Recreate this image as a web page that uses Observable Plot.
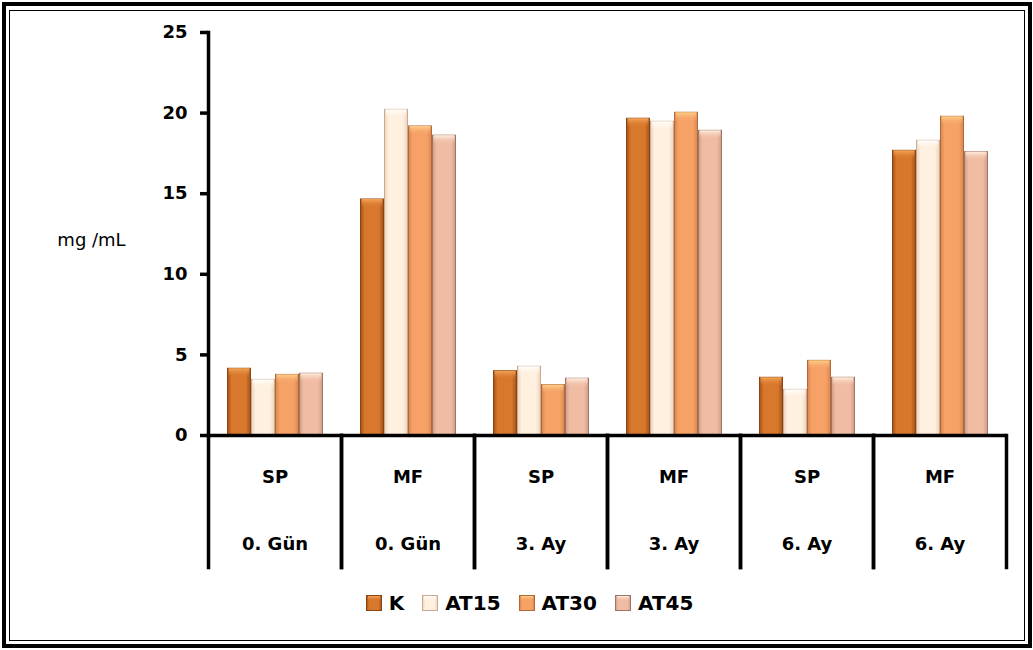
<!DOCTYPE html>
<html>
<head>
<meta charset="utf-8">
<script src="https://cdn.jsdelivr.net/npm/d3@7"></script>
<script src="https://cdn.jsdelivr.net/npm/@observablehq/plot@0.6"></script>
<style>
  html, body { margin: 0; padding: 0; background: #fff; }
  #wrap { position: relative; width: 1033px; height: 650px; overflow: hidden; background: #fff; font-family: "DejaVu Sans", sans-serif; }
  #outer { position: absolute; left: 2px; top: 2px; right: 1px; bottom: 2px; border: 4px solid #000; pointer-events: none; }
  #inner { position: absolute; left: 9px; top: 10px; right: 8px; bottom: 9px; border: 1.5px solid #000; pointer-events: none; }
  #chart { position: absolute; left: 0; top: 0; }
  #legend { position: absolute; left: 0; width: 1033px; top: 591px; display: flex; justify-content: center; align-items: center; font-weight: bold; font-size: 20px; color: #000; padding-left: 26px; box-sizing: border-box; }
  .item { display: flex; align-items: center; margin: 0 9px; }
  .sw { width: 16px; height: 16px; margin-right: 7px; }
</style>
</head>
<body>
<div id="wrap">
  <div id="chart"></div>
  <div id="legend"></div>
  <div id="outer"></div>
  <div id="inner"></div>
</div>
<script>
// ---- data ----
const processes = ["SP", "MF", "SP", "MF", "SP", "MF"];
const times = ["0. Gün", "0. Gün", "3. Ay", "3. Ay", "6. Ay", "6. Ay"];
const series = ["K", "AT15", "AT30", "AT45"];
const K    = [4.14, 14.64, 3.99, 19.65, 3.58, 17.66];
const AT15 = [3.45, 20.2, 4.26, 19.46, 2.83, 18.28];
const AT30 = [3.76, 19.17, 3.12, 20.02, 4.63, 19.77];
const AT45 = [3.83, 18.6, 3.52, 18.9, 3.58, 17.58];
const yTicks = [0, 5, 10, 15, 20, 25];
const yLabel = "mg /mL";

// ---- styles ----
const palette = {
  K:    {edge: "#a4511a", mid: "#d7782c", stroke: "#8a4313", top: "#f6a55a"},
  AT15: {edge: "#ecd2ba", mid: "#fff0e0", stroke: "#c9ab92", top: "#ffffff"},
  AT30: {edge: "#d88550", mid: "#f6a266", stroke: "#b06a3a", top: "#ffd08a"},
  AT45: {edge: "#cf9d86", mid: "#f0bca3", stroke: "#9f7565", top: "#fff0e0"}
};

const keys = processes.map((p, i) => p + "|" + times[i]);
const valuesBySeries = {K, AT15, AT30, AT45};
const table = [];
keys.forEach((k, i) => series.forEach(s => table.push({key: k, series: s, value: valuesBySeries[s][i]})));
const cats = keys.map((k, i) => ({key: k, proc: processes[i], time: times[i]}));

const font = "'DejaVu Sans', sans-serif";

const plot = Plot.plot({
  width: 1033,
  height: 580,
  marginTop: 32,
  marginBottom: 145,
  marginLeft: 205,
  marginRight: 25,
  style: {fontFamily: font, background: "transparent", overflow: "visible"},
  fx: {domain: keys, padding: 0, axis: null, label: null},
  x: {domain: series, paddingInner: 0, paddingOuter: 0.7, axis: null},
  y: {domain: [0, 25], axis: null},
  color: {domain: series, range: series.map(s => `url(#grad-${s})`)},
  marks: [
    Plot.barY(table, {fx: "key", x: "series", y: "value", fill: "series", stroke: d => palette[d.series].stroke, strokeWidth: 1, insetLeft: 0.5, insetRight: 0.5}),
    Plot.barY(table, {fx: "key", x: "series", y1: "value", y2: "value", insetBottom: -9, insetLeft: 1.5, insetRight: 1.5, fill: d => `url(#top-${d.series})`}),
    Plot.ruleY([0], {strokeWidth: 3.5, stroke: "#000"}),
    Plot.frame({anchor: "left", facet: "super", strokeWidth: 3.5, stroke: "#000"}),
    Plot.frame({anchor: "left", insetTop: 403, insetBottom: -132, strokeWidth: 3.5, stroke: "#000"}),
    Plot.frame({anchor: "right", insetTop: 403, insetBottom: -132, strokeWidth: 3.5, stroke: "#000"}),
    Plot.axisY({ticks: yTicks, tickSize: 8, tickPadding: 13, strokeWidth: 3.5, fontSize: 18, fontWeight: "bold", label: null, tickFormat: d => String(d)}),
    Plot.text(cats, {fx: "key", text: "proc", frameAnchor: "bottom", dy: 47, fontSize: 18, fontWeight: "bold", fill: "#000"}),
    Plot.text(cats, {fx: "key", text: "time", frameAnchor: "bottom", dy: 114, fontSize: 18, fontWeight: "bold", fill: "#000"}),
    Plot.text([{key: keys[0], label: yLabel}], {fx: "key", text: "label", frameAnchor: "left", textAnchor: "middle", dx: -117, dy: 6, fontSize: 18, fill: "#000"})
  ]
});

// gradients
const svg = d3.select(plot.tagName.toLowerCase() === "svg" ? plot : plot.querySelector("svg"));
const defs = svg.insert("defs", ":first-child");
series.forEach(s => {
  const p = palette[s];
  const g = defs.append("linearGradient").attr("id", `grad-${s}`).attr("x1", 0).attr("x2", 1).attr("y1", 0).attr("y2", 0);
  g.append("stop").attr("offset", "0%").attr("stop-color", p.edge);
  g.append("stop").attr("offset", "18%").attr("stop-color", p.mid);
  g.append("stop").attr("offset", "80%").attr("stop-color", p.mid);
  g.append("stop").attr("offset", "100%").attr("stop-color", p.edge);
  const t = defs.append("linearGradient").attr("id", `top-${s}`).attr("x1", 0).attr("x2", 0).attr("y1", 0).attr("y2", 1);
  t.append("stop").attr("offset", "0%").attr("stop-color", p.top).attr("stop-opacity", 1);
  t.append("stop").attr("offset", "100%").attr("stop-color", p.mid).attr("stop-opacity", 0);
});
document.getElementById("chart").appendChild(plot);

// legend
const legend = document.getElementById("legend");
series.forEach(s => {
  const item = document.createElement("div");
  item.className = "item";
  item.innerHTML = `<svg class="sw" width="16" height="16"><rect x="0.5" y="0.5" width="15" height="15" fill="url(#grad-${s})" stroke="${palette[s].stroke}"/><rect x="2" y="1" width="12" height="5" fill="url(#top-${s})"/></svg><span>${s}</span>`;
  legend.appendChild(item);
});
</script>
</body>
</html>
